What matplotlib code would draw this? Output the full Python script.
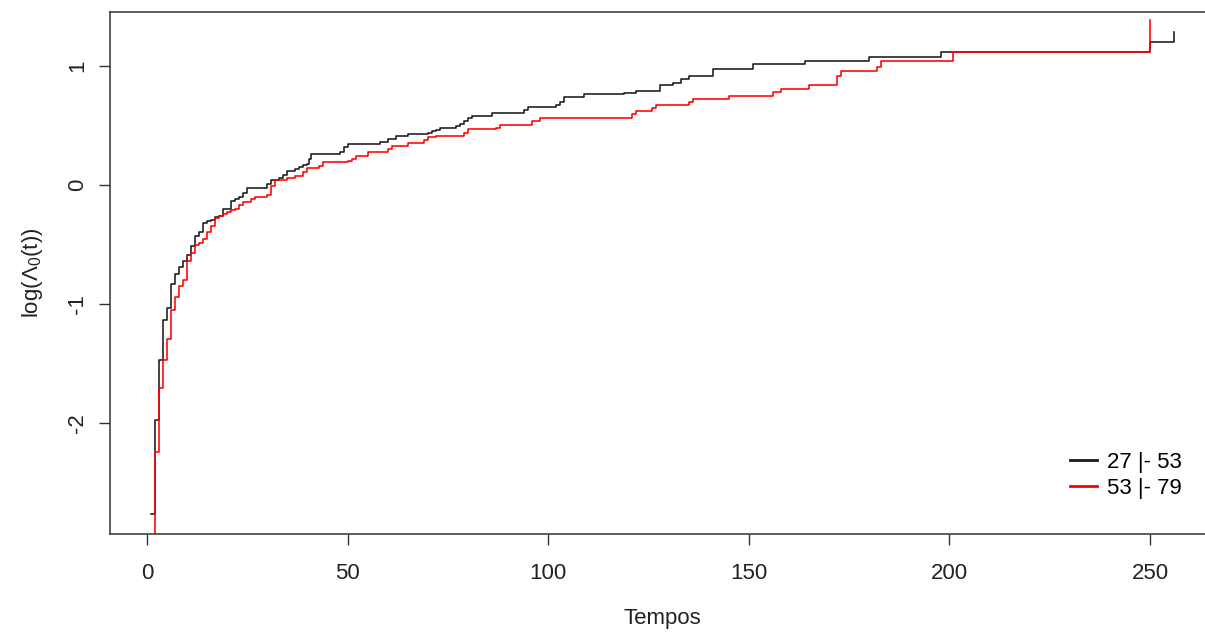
import matplotlib
matplotlib.use("Agg")
import matplotlib.pyplot as plt

plt.rcParams['font.family'] = ['Liberation Sans', 'DejaVu Sans']
plt.rcParams['mathtext.fontset'] = 'custom'
plt.rcParams['mathtext.rm'] = 'Liberation Sans'
plt.rcParams['mathtext.it'] = 'Liberation Sans'

# Group 27 |- 53 (black)
t_black = [1, 2, 3, 4, 5, 6, 7, 8, 9, 10, 11, 12, 13, 14, 15, 16, 17, 18, 19, 21,
           22, 23, 24, 25, 30, 31, 33, 34, 35, 37, 38, 39, 40, 40.5, 41, 48, 49, 50,
           58, 60, 62, 65, 70, 71, 72, 73, 77, 78, 79, 80, 81, 86, 94, 95, 102, 103,
           104, 109, 119, 122, 128, 131, 133, 135, 141, 151, 164, 180, 198, 250, 256]
v_black = [-2.76, -1.97, -1.47, -1.13, -1.03, -0.83, -0.75, -0.69, -0.64, -0.59,
           -0.51, -0.43, -0.39, -0.32, -0.30, -0.29, -0.27, -0.26, -0.20, -0.137,
           -0.115, -0.098, -0.065, -0.025, 0.008, 0.042, 0.056, 0.081, 0.118, 0.134,
           0.154, 0.165, 0.174, 0.216, 0.258, 0.28, 0.322, 0.347, 0.364, 0.387, 0.412,
           0.431, 0.44, 0.454, 0.465, 0.476, 0.496, 0.513, 0.54, 0.566, 0.577, 0.602,
           0.63, 0.658, 0.672, 0.70, 0.737, 0.762, 0.773, 0.792, 0.84, 0.86, 0.89,
           0.916, 0.972, 1.014, 1.042, 1.078, 1.12, 1.20, 1.29]

# Group 53 |- 79 (red)
t_red = [1, 2, 3, 4, 5, 6, 7, 8, 9, 10, 11, 12, 13, 14, 15, 16, 17, 18, 19, 20, 21,
         22, 23, 24, 26, 27, 30, 31, 32, 35, 37, 39, 40, 43, 44, 50, 51, 52, 55, 60,
         61, 65, 69, 70, 72, 79, 80, 87, 88, 96, 98, 107, 121, 122, 126, 127, 135,
         136, 145, 156, 158, 165, 172, 173, 182, 183, 201, 250]
v_red = [-3.3, -2.24, -1.70, -1.465, -1.29, -1.05, -0.94, -0.85, -0.80, -0.64, -0.57,
         -0.50, -0.49, -0.456, -0.39, -0.345, -0.28, -0.26, -0.24, -0.227, -0.21,
         -0.20, -0.17, -0.143, -0.12, -0.10, -0.084, -0.008, 0.042, 0.061, 0.076,
         0.112, 0.14, 0.16, 0.193, 0.204, 0.216, 0.244, 0.28, 0.30, 0.328, 0.356,
         0.378, 0.40, 0.412, 0.44, 0.468, 0.482, 0.507, 0.538, 0.56, 0.565, 0.594,
         0.622, 0.645, 0.67, 0.70, 0.72, 0.75, 0.784, 0.807, 0.84, 0.918, 0.955,
         0.994, 1.042, 1.115, 1.39]

x_ticks = [0, 50, 100, 150, 200, 250]
y_ticks = [-2, -1, 0, 1]
labels = ['27 |- 53', '53 |- 79']

FS = 16

fig = plt.figure(figsize=(12.05, 6.37), dpi=100)
ax = fig.add_axes([110/1205, (637-534)/637, (1215-110)/1205, (534-12)/637])

ax.step(t_black, v_black, where='post', color='#1a1a1a', lw=1.15, label=labels[0])
ax.step(t_red, v_red, where='post', color='#ff0000', lw=1.15, label=labels[1])

ax.set_xlim(-9.2, 266.2)
ax.set_ylim(-2.93, 1.454)
ax.set_xticks(x_ticks)
ax.set_yticks(y_ticks)
ax.set_yticklabels([str(v) for v in y_ticks], rotation=90, va='center')
ax.tick_params(axis='both', direction='out', length=8, width=1, colors='#333333',
               labelsize=FS, labelcolor='#222222')
ax.tick_params(axis='x', pad=13)
ax.tick_params(axis='y', pad=8)
for s in ax.spines.values():
    s.set_color('#333333')
    s.set_linewidth(1.1)

ax.set_xlabel('Tempos', fontsize=FS, color='#222222', labelpad=17)
ax.set_ylabel(r'log($\Lambda_0$(t))', fontsize=FS, color='#222222', labelpad=16)

leg = ax.legend(loc='lower right', bbox_to_anchor=(0.978, 0.05), frameon=False,
                fontsize=FS, handlelength=1.2, handletextpad=0.45, labelspacing=0.22,
                borderaxespad=0)
for h in leg.get_lines():
    h.set_linewidth(2.0)

fig.savefig('out.png', dpi=100)
